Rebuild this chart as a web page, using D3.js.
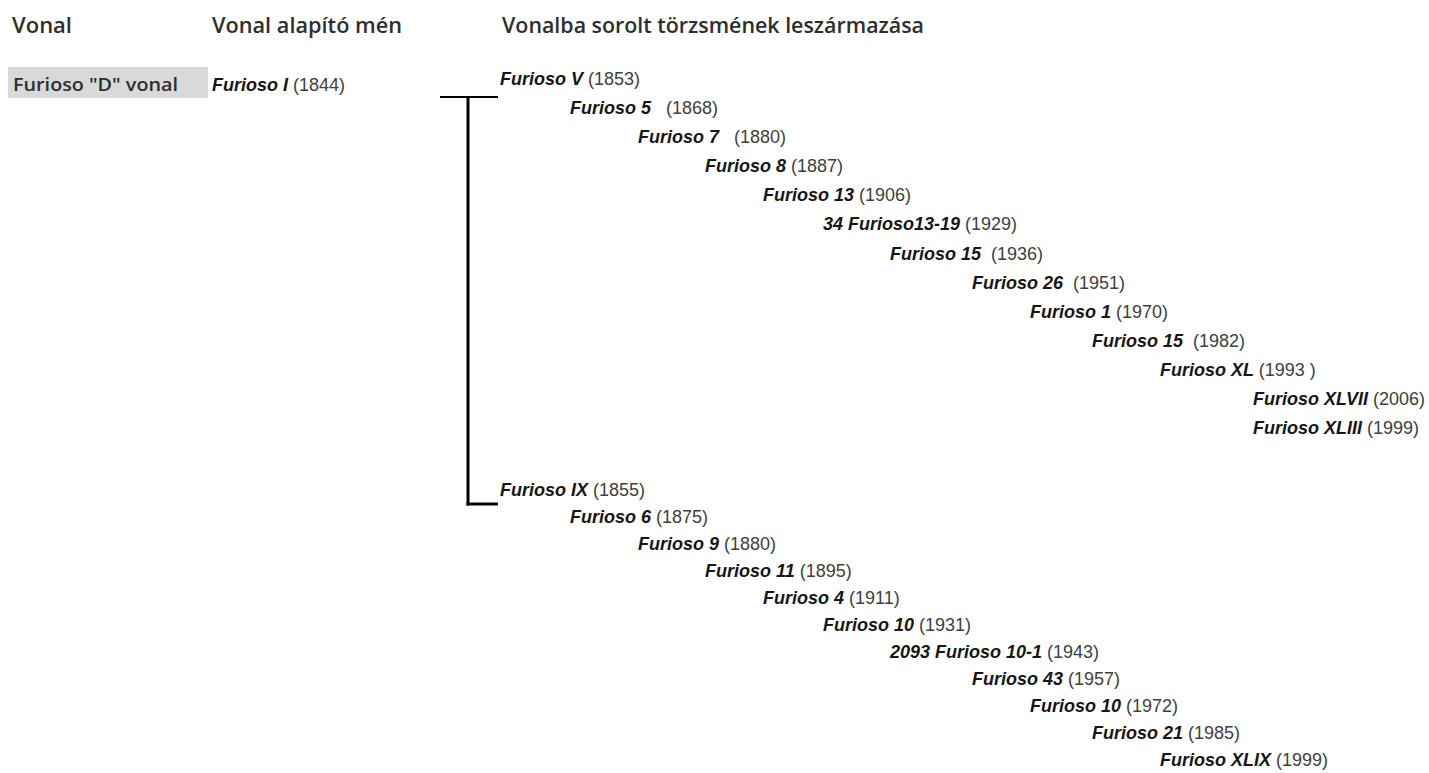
<!DOCTYPE html>
<html>
<head>
<meta charset="utf-8">
<script src="https://cdn.jsdelivr.net/npm/d3@7"></script>
<style>
  html, body { margin: 0; padding: 0; background: #fff; }
  svg { display: block; }
  .hdr { font-family: "Open Sans", "Noto Sans", sans-serif; font-weight: 600; font-size: 21.5px; fill: #2e2e2e; }
  .cell { font-family: "Open Sans", "Noto Sans", sans-serif; font-weight: 600; font-size: 17.5px; fill: #2e2e2e; }
  .ent { font-family: "Liberation Sans", Arial, sans-serif; font-size: 18px; white-space: pre; }
  .nm { font-weight: bold; font-style: italic; fill: #161616; }
  .yr { fill: #404040; }
</style>
</head>
<body>
<svg id="chart" width="1429" height="773"></svg>
<script>
// ---------- data ----------
const headers = ["Vonal", "Vonal alapító mén", "Vonalba sorolt törzsmének leszármazása"];
const lineName = 'Furioso "D" vonal';
const founderName = "Furioso I";
const founderYear = "(1844)";

const branch1Names = ["Furioso V", "Furioso 5", "Furioso 7", "Furioso 8", "Furioso 13", "34 Furioso13-19",
  "Furioso 15", "Furioso 26", "Furioso 1", "Furioso 15", "Furioso XL", "Furioso XLVII", "Furioso XLIII"];
const branch1Years = ["(1853)", "  (1868)", "  (1880)", "(1887)", "(1906)", "(1929)",
  " (1936)", " (1951)", "(1970)", " (1982)", "(1993 )", "(2006)", "(1999)"];
const branch1Depth = [0, 1, 2, 3, 4, 5, 6, 7, 8, 9, 10, 11, 11];

const branch2Names = ["Furioso IX", "Furioso 6", "Furioso 9", "Furioso 11", "Furioso 4", "Furioso 10",
  "2093 Furioso 10-1", "Furioso 43", "Furioso 10", "Furioso 21", "Furioso XLIX"];
const branch2Years = ["(1855)", "(1875)", "(1880)", "(1895)", "(1911)", "(1931)",
  "(1943)", "(1957)", "(1972)", "(1985)", "(1999)"];
const branch2Depth = [0, 1, 2, 3, 4, 5, 6, 7, 8, 9, 10];

// ---------- scales ----------
const depthDomain = d3.range(12);
const x = d3.scaleOrdinal().domain(depthDomain)
  .range([500, 570, 638, 705, 763, 823, 890, 972, 1030, 1092, 1160, 1253]);
// row index (continuous across both branches, with a gap of rows between them)
const y = d3.scaleLinear().domain([0, 12, 14, 24]).range([79, 428, 490, 760]);

const entries = [];
branch1Names.forEach((n, i) => entries.push({ name: n, year: branch1Years[i], depth: branch1Depth[i], row: i }));
branch2Names.forEach((n, i) => entries.push({ name: n, year: branch2Years[i], depth: branch2Depth[i], row: 14 + i }));

const svg = d3.select("#chart");

// headers
const hdrX = [12, 212, 502];
const hdrW = [60, 190, 422];
svg.selectAll("text.hdr").data(headers).join("text")
  .attr("class", "hdr")
  .attr("x", (d, i) => hdrX[i])
  .attr("y", 33)
  .attr("textLength", (d, i) => hdrW[i])
  .attr("lengthAdjust", "spacingAndGlyphs")
  .text(d => d);

// line cell
svg.append("rect").attr("x", 8).attr("y", 67).attr("width", 200).attr("height", 31).attr("fill", "#d9d9d9");
svg.append("text").attr("class", "cell").attr("x", 13).attr("y", 91)
  .attr("textLength", 165).attr("lengthAdjust", "spacingAndGlyphs").text(lineName);

// founder
const f = svg.append("text").attr("class", "ent").attr("x", 212).attr("y", 91);
f.append("tspan").attr("class", "nm").text(founderName + " ");
f.append("tspan").attr("class", "yr").text(founderYear);

// bracket
const yTop = y(0) + 18, yBot = y(14) + 14;
const xv = 468;
svg.append("line").attr("x1", 440).attr("x2", 498).attr("y1", yTop).attr("y2", yTop)
  .attr("stroke", "#000").attr("stroke-width", 2);
svg.append("line").attr("x1", xv).attr("x2", xv).attr("y1", yTop).attr("y2", yBot + 1.5)
  .attr("stroke", "#000").attr("stroke-width", 3);
svg.append("line").attr("x1", xv - 1.5).attr("x2", 498).attr("y1", yBot).attr("y2", yBot)
  .attr("stroke", "#000").attr("stroke-width", 3);

// entries
const t = svg.selectAll("text.entry").data(entries).join("text")
  .attr("class", "ent entry")
  .attr("x", d => x(d.depth))
  .attr("y", d => y(d.row) + 6);
t.append("tspan").attr("class", "nm").text(d => d.name + " ");
t.append("tspan").attr("class", "yr").text(d => d.year);
</script>
</body>
</html>
